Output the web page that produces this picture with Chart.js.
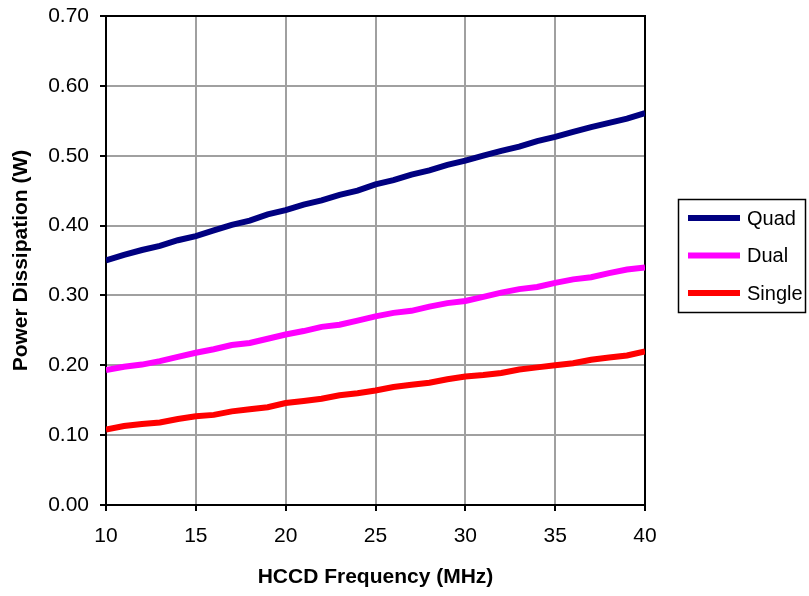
<!DOCTYPE html>
<html>
<head>
<meta charset="utf-8">
<script src="https://cdn.jsdelivr.net/npm/chart.js@4"></script>
<style>
  html, body { margin: 0; padding: 0; background: #fff; }
  #wrap { width: 809px; height: 596px; }
</style>
</head>
<body>
<div id="wrap"><canvas id="powerChart" width="809" height="596"></canvas></div>
<script>
// HCCD frequency (MHz)
const freq = [10, 11, 12, 13, 14, 15, 16, 17, 18, 19, 20, 21, 22, 23, 24, 25,
              26, 27, 28, 29, 30, 31, 32, 33, 34, 35, 36, 37, 38, 39, 40];

// Power dissipation (W)
const quad = [0.350, 0.358, 0.365, 0.371, 0.379, 0.385, 0.393, 0.401, 0.407, 0.416,
              0.422, 0.430, 0.436, 0.444, 0.450, 0.459, 0.465, 0.473, 0.479, 0.487,
              0.493, 0.500, 0.507, 0.513, 0.521, 0.527, 0.534, 0.541, 0.547, 0.553, 0.561];
const dual = [0.193, 0.198, 0.201, 0.206, 0.212, 0.218, 0.223, 0.229, 0.232, 0.238,
              0.244, 0.249, 0.255, 0.258, 0.264, 0.270, 0.275, 0.278, 0.284, 0.289,
              0.292, 0.298, 0.304, 0.309, 0.312, 0.318, 0.323, 0.326, 0.332, 0.337, 0.340];
const single = [0.108, 0.113, 0.116, 0.118, 0.123, 0.127, 0.129, 0.134, 0.137, 0.140,
                0.146, 0.149, 0.152, 0.157, 0.160, 0.164, 0.169, 0.172, 0.175, 0.180,
                0.184, 0.186, 0.189, 0.194, 0.197, 0.200, 0.203, 0.208, 0.211, 0.214, 0.220];

const seriesNames = ['Quad', 'Dual', 'Single'];
const seriesColors = ['#000080', '#ff00ff', '#ff0000'];
const seriesValues = [quad, dual, single];

const FONT = '"Liberation Sans", Arial, sans-serif';

function toPoints(values) {
    return values.map((v, i) => ({ x: freq[i], y: v }));
}

// black frame round the plot area
const frame = {
    id: 'frame',
    beforeDatasetsDraw(chart) {
        const a = chart.chartArea;
        const c = chart.ctx;
        c.save();
        c.strokeStyle = '#000';
        c.lineWidth = 2;
        c.strokeRect(a.left, a.top, a.right - a.left, a.bottom - a.top);
        c.restore();
    }
};

// legend box on the right, like the Excel one
const boxLegend = {
    id: 'boxLegend',
    afterDraw(chart) {
        const c = chart.ctx;
        c.save();
        c.strokeStyle = '#000';
        c.lineWidth = 1.5;
        c.strokeRect(678.5, 199.5, 127, 113);
        c.font = '20px ' + FONT;
        c.textBaseline = 'middle';
        c.fillStyle = '#000';
        chart.data.datasets.forEach((ds, i) => {
            const y = 218 + i * 37.5;
            c.strokeStyle = ds.borderColor;
            c.lineWidth = 6;
            c.beginPath();
            c.moveTo(688, y);
            c.lineTo(740, y);
            c.stroke();
            c.fillText(ds.label, 747, y + 1);
        });
        c.restore();
    }
};

new Chart(document.getElementById('powerChart'), {
    type: 'line',
    data: {
        datasets: seriesNames.map((name, i) => ({
            label: name,
            data: toPoints(seriesValues[i]),
            borderColor: seriesColors[i],
            backgroundColor: seriesColors[i],
            borderWidth: 6,
            pointRadius: 0,
            tension: 0,
            fill: false
        }))
    },
    options: {
        responsive: false,
        animation: false,
        devicePixelRatio: 1,
        layout: { padding: { top: 16, right: 164, left: 0, bottom: 0 } },
        plugins: {
            legend: { display: false },
            tooltip: { enabled: false }
        },
        scales: {
            x: {
                type: 'linear',
                min: 10,
                max: 40,
                afterFit(scale) {
                    scale.height = 91;
                    scale.paddingLeft = 0;
                    scale.paddingRight = 0;
                },
                ticks: {
                    stepSize: 5,
                    color: '#000',
                    padding: 13,
                    font: { family: FONT, size: 21 },
                    maxRotation: 0
                },
                grid: { color: '#a0a0a0', lineWidth: 2, tickColor: '#000', tickLength: 6 },
                border: { color: '#000', width: 2 },
                title: {
                    display: true,
                    text: 'HCCD Frequency (MHz)',
                    color: '#000',
                    font: { family: FONT, size: 21, weight: 'bold' },
                    padding: { top: 0, bottom: 6 }
                }
            },
            y: {
                min: 0,
                max: 0.7,
                afterFit(scale) {
                    scale.width = 106;
                    scale.paddingTop = 0;
                    scale.paddingBottom = 0;
                },
                ticks: {
                    stepSize: 0.1,
                    color: '#000',
                    padding: 11,
                    font: { family: FONT, size: 21 },
                    callback: v => v.toFixed(2)
                },
                grid: { color: '#a0a0a0', lineWidth: 2, tickColor: '#000', tickLength: 6 },
                border: { color: '#000', width: 2 },
                title: {
                    display: true,
                    text: 'Power Dissipation (W)',
                    color: '#000',
                    font: { family: FONT, size: 21, weight: 'bold' },
                    padding: { top: 9, bottom: 0 }
                }
            }
        }
    },
    plugins: [frame, boxLegend]
});
</script>
</body>
</html>
